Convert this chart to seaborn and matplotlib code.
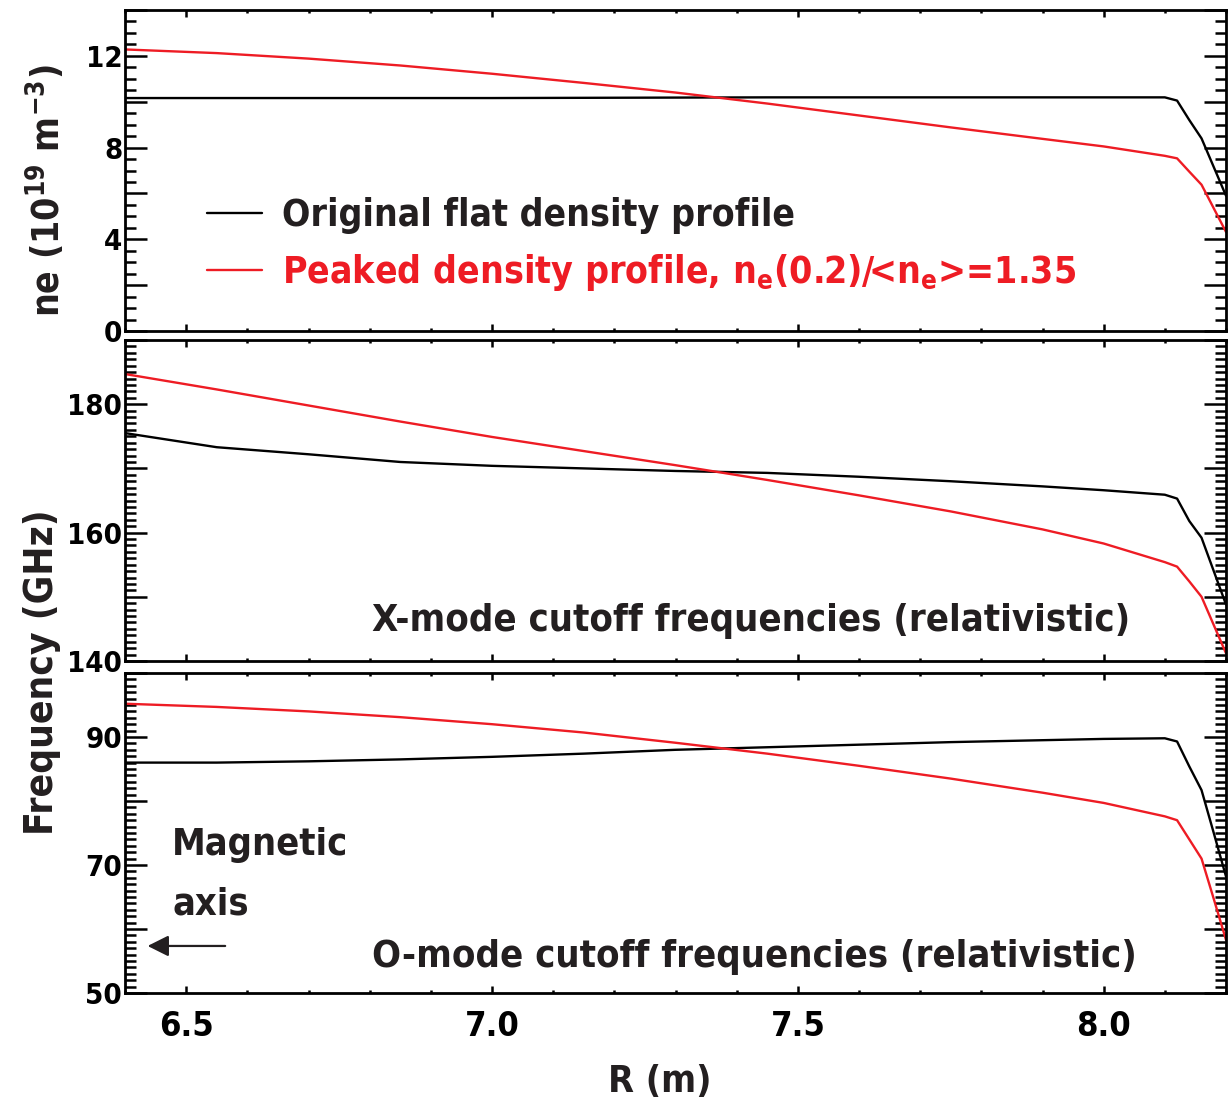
import numpy as np
import pandas as pd
import matplotlib
matplotlib.use("Agg")
import matplotlib.pyplot as plt
from matplotlib import font_manager
from matplotlib.ticker import MultipleLocator, FuncFormatter
import seaborn as sns

# ---------------------------------------------------------------- data
# Major radius grid (m)
R = [6.40, 6.55, 6.70, 6.85, 7.00, 7.15, 7.30, 7.45, 7.60, 7.75,
     7.90, 8.00, 8.10, 8.12, 8.14, 8.16, 8.18, 8.20]

# Electron density (1e19 m^-3)
ne_flat = [10.16, 10.16, 10.16, 10.16, 10.16, 10.17, 10.18, 10.19, 10.19, 10.19,
           10.19, 10.19, 10.19, 10.05, 9.20, 8.40, 7.15, 5.90]
ne_peaked = [12.28, 12.12, 11.88, 11.58, 11.22, 10.82, 10.40, 9.92, 9.40, 8.88,
             8.38, 8.05, 7.64, 7.53, 6.95, 6.38, 5.35, 4.32]

# X-mode cutoff frequency (GHz)
fx_flat = [175.5, 173.3, 172.2, 171.0, 170.4, 170.0, 169.6, 169.3, 168.7, 168.0,
           167.2, 166.6, 165.9, 165.3, 161.8, 159.2, 154.0, 148.8]
fx_peaked = [184.7, 182.3, 179.8, 177.3, 174.9, 172.7, 170.5, 168.2, 165.8, 163.3,
             160.5, 158.3, 155.4, 154.7, 152.4, 150.0, 145.6, 141.2]

# O-mode cutoff frequency (GHz)
fo_flat = [86.0, 86.0, 86.2, 86.5, 86.9, 87.4, 88.0, 88.4, 88.8, 89.2,
           89.5, 89.7, 89.8, 89.3, 85.4, 81.7, 75.0, 68.2]
fo_peaked = [95.2, 94.7, 94.0, 93.1, 92.0, 90.7, 89.1, 87.4, 85.5, 83.5,
             81.3, 79.7, 77.6, 77.0, 74.0, 71.0, 64.7, 58.3]

xticks = [6.5, 7.0, 7.5, 8.0]
legend_labels = ["Original flat density profile",
                 r"Peaked density profile, n$_{\mathregular{e}}$(0.2)/<n$_{\mathregular{e}}$>=1.35"]
xmode_title = "X-mode cutoff frequencies (relativistic)"
omode_title = "O-mode cutoff frequencies (relativistic)"
ne_label = r"ne (10$^{\mathregular{19}}$ m$^{\mathregular{-3}}$)"
freq_label = "Frequency (GHz)"

# ---------------------------------------------------------------- style
sns.set_theme(style="ticks")


def narrow_face():
    """Prefer a narrow/condensed bold sans face when one is installed."""
    best = None
    for f in font_manager.fontManager.ttflist:
        name = f.name.lower()
        narrow = ("narrow" in name or "condensed" in name
                  or str(f.stretch) in ("condensed", "semi-condensed", "extra-condensed"))
        if narrow and "mono" not in name and "serif" not in name.replace("sans", ""):
            w = f.weight if isinstance(f.weight, int) else (700 if "bold" in str(f.weight) else 400)
            if best is None or (w >= 600 and best[2] < 600):
                best = (f.name, f.stretch, w)
    return best


face = narrow_face()
if face is not None:
    plt.rcParams["font.family"] = [face[0], "Liberation Sans", "DejaVu Sans"]
    plt.rcParams["font.stretch"] = face[1]
else:
    plt.rcParams["font.family"] = ["Liberation Sans", "DejaVu Sans"]
plt.rcParams["font.weight"] = "bold"
plt.rcParams["mathtext.default"] = "regular"
plt.rcParams["axes.linewidth"] = 2.0

RED = "#ee1c24"
INK = "#231f20"
LW = 1.7

fig = plt.figure(figsize=(12.3, 11.06), dpi=100)
renderer = fig.canvas.get_renderer()


def fitted(s, size, target, rotation=0):
    """Largest size (<= size) at which string s spans at most target pixels."""
    t = fig.text(0, 0, s, fontsize=size, rotation=rotation, fontweight="bold")
    bb = t.get_window_extent(renderer)
    t.remove()
    span = bb.height if rotation else bb.width
    return size * min(1.0, target / span)


left, width = 125 / 1230, 1101 / 1230
ax1 = fig.add_axes([left, 775 / 1106, width, 321 / 1106])
ax2 = fig.add_axes([left, 445 / 1106, width, 321 / 1106])
ax3 = fig.add_axes([left, 113 / 1106, width, 320 / 1106])

df = pd.DataFrame({"R": R, "ne_flat": ne_flat, "ne_peaked": ne_peaked,
                   "fx_flat": fx_flat, "fx_peaked": fx_peaked,
                   "fo_flat": fo_flat, "fo_peaked": fo_peaked})

ytick_size = fitted("180", 28, 55)
xtick_size = fitted("6.5", 33, 55)

for ax, (cf, cp) in zip([ax1, ax2, ax3],
                        [("ne_flat", "ne_peaked"), ("fx_flat", "fx_peaked"),
                         ("fo_flat", "fo_peaked")]):
    sns.lineplot(data=df, x="R", y=cf, ax=ax, color="black", lw=LW,
                 label=legend_labels[0] if ax is ax1 else None)
    sns.lineplot(data=df, x="R", y=cp, ax=ax, color=RED, lw=LW,
                 label=legend_labels[1] if ax is ax1 else None)
    ax.set_xlim(6.4, 8.2)
    ax.set_xlabel("")
    ax.set_ylabel("")
    ax.xaxis.set_major_locator(plt.FixedLocator(xticks))
    ax.xaxis.set_minor_locator(MultipleLocator(0.1))
    ax.tick_params(which="both", direction="in", top=True, right=True,
                   colors="black", width=1.8)
    ax.tick_params(axis="x", which="major", length=5, labelsize=xtick_size, pad=12)
    ax.tick_params(axis="x", which="minor", length=2.5)
    ax.tick_params(axis="y", which="major", length=16, labelsize=ytick_size, pad=2)
    ax.tick_params(axis="y", which="minor", length=8)
    for s in ax.spines.values():
        s.set_color("black")
        s.set_linewidth(2.0)

for ax in (ax1, ax2):
    ax.tick_params(axis="x", labelbottom=False)

# density panel
ax1.set_ylim(0, 14)
ax1.yaxis.set_major_locator(MultipleLocator(2))
ax1.yaxis.set_minor_locator(MultipleLocator(0.5))
ax1.yaxis.set_major_formatter(FuncFormatter(
    lambda v, p: f"{v:.0f}" if round(v) % 4 == 0 and v < 13 else ""))

# X-mode panel
ax2.set_ylim(140, 190)
ax2.yaxis.set_major_locator(MultipleLocator(10))
ax2.yaxis.set_minor_locator(MultipleLocator(1))
ax2.yaxis.set_major_formatter(FuncFormatter(
    lambda v, p: f"{v:.0f}" if round(v) % 20 == 0 and v < 185 else ""))

# O-mode panel
ax3.set_ylim(50, 100)
ax3.yaxis.set_major_locator(MultipleLocator(10))
ax3.yaxis.set_minor_locator(MultipleLocator(1))
ax3.yaxis.set_major_formatter(FuncFormatter(
    lambda v, p: f"{v:.0f}" if round(v - 50) % 20 == 0 and v < 95 else ""))
ax3.xaxis.set_major_formatter(FuncFormatter(lambda v, p: f"{v:.1f}"))

for lab in ax1.get_yticklabels() + ax2.get_yticklabels() + ax3.get_yticklabels() + ax3.get_xticklabels():
    lab.set_fontweight("bold")

# legend in the density panel
leg_size = min(fitted(legend_labels[0], 36, 515), fitted(legend_labels[1], 36, 793))
leg_px = leg_size * 100 / 72
leg = ax1.legend(loc="upper left", bbox_to_anchor=(0.0745, 0.418), frameon=False,
                 fontsize=leg_size, handlelength=55 / leg_px, handletextpad=20 / leg_px,
                 labelspacing=0.5, borderpad=0, borderaxespad=0,
                 labelcolor=[INK, RED])
for line in leg.get_lines():
    line.set_linewidth(LW)
for t in leg.get_texts():
    t.set_fontweight("bold")

# annotations
title_size = min(fitted(xmode_title, 36, 758), fitted(omode_title, 36, 763))
ax2.text(0.2243, 0.0935, xmode_title, transform=ax2.transAxes,
         fontsize=title_size, color=INK, ha="left", va="baseline", fontweight="bold")
ax3.text(0.2243, 0.081, omode_title, transform=ax3.transAxes,
         fontsize=title_size, color=INK, ha="left", va="baseline", fontweight="bold")
mag_size = fitted("Magnetic", 36, 176)
ax3.text(0.0427, 0.431, "Magnetic", transform=ax3.transAxes, fontsize=mag_size, color=INK,
         ha="left", va="baseline", fontweight="bold")
ax3.text(0.0427, 0.244, "axis", transform=ax3.transAxes, fontsize=mag_size, color=INK,
         ha="left", va="baseline", fontweight="bold")
ax3.annotate("", xy=(0.018, 0.147), xytext=(0.0935, 0.147), xycoords="axes fraction",
             arrowprops=dict(arrowstyle="-|>", mutation_scale=32, lw=1.6, color=INK))

# axis labels
fig.text(0.038, 0.828, ne_label, rotation=90, ha="center", va="center",
         fontsize=fitted(ne_label, 36, 252, rotation=90), color=INK, fontweight="bold")
fig.text(0.034, 0.392, freq_label, rotation=90, ha="center", va="center",
         fontsize=fitted(freq_label, 36, 326, rotation=90), color=INK, fontweight="bold")
fig.text(0.5366, 0.022, "R (m)", ha="center", va="center",
         fontsize=fitted("R (m)", 36, 104), color=INK, fontweight="bold")

fig.savefig("out.png", dpi=100)
